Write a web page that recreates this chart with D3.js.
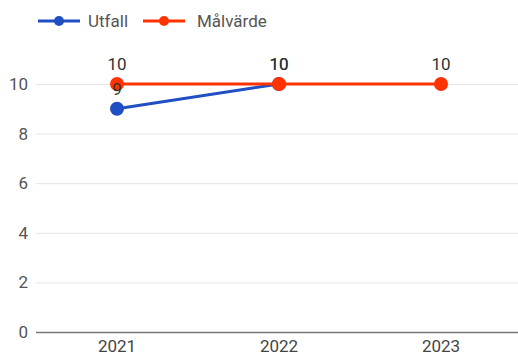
<!DOCTYPE html>
<html><head><meta charset="utf-8">
<script src="https://cdn.jsdelivr.net/npm/d3@7"></script>
<style>body{margin:0;background:#fff}svg{display:block;font-family:Roboto,sans-serif}</style>
</head><body><svg id="c" width="518" height="356"></svg>
<script>
const years = ["2021","2022","2023"];
const utfall = [9, 10, null];
const malvarde = [10, 10, 10];
const yTicks = [0,2,4,6,8,10];
const seriesNames = ["Utfall","Målvärde"];
const colors = ["#1f4fc2","#ff3300"];

const svg = d3.select("#c");
const x = d3.scaleBand().domain(years).range([36, 522]);
const y = d3.scaleLinear().domain([0, 10]).range([332, 84]);
const cx = d => x(d) + x.bandwidth()/2;
const FS = 17;

const ya = svg.append("g").attr("transform","translate(36,0)")
  .call(d3.axisLeft(y).tickValues(yTicks).tickSize(-482).tickFormat(d3.format("d")));
ya.select(".domain").remove();
ya.selectAll(".tick line").attr("stroke", d => d===0 ? "#777" : "#e6e6e6").attr("stroke-width", d=>d===0?1.3:1);
ya.selectAll(".tick text").attr("x",-8).attr("fill","#555").attr("font-size",FS).attr("font-family","Roboto,sans-serif");

const xa = svg.append("g").attr("transform","translate(0,332)")
  .call(d3.axisBottom(x).tickSize(0));
xa.select(".domain").remove();
xa.selectAll(".tick text").attr("y",20).attr("dy",0).attr("fill","#444").attr("font-size",FS).attr("font-family","Roboto,sans-serif");

const series = [utfall, malvarde];
series.forEach((vals, i) => {
  const pts = years.map((yr, j) => ({yr, v: vals[j]})).filter(p => p.v != null);
  svg.append("path").datum(pts)
    .attr("fill","none").attr("stroke",colors[i]).attr("stroke-width",3)
    .attr("d", d3.line().x(p=>cx(p.yr)).y(p=>y(p.v)));
  svg.selectAll(null).data(pts).enter().append("circle")
    .attr("cx", p=>cx(p.yr)).attr("cy", p=>y(p.v)).attr("r",7).attr("fill",colors[i]);
});
series.forEach((vals, i) => {
  const pts = years.map((yr, j) => ({yr, v: vals[j]})).filter(p => p.v != null);
  svg.selectAll(null).data(pts).enter().append("text")
    .attr("x", p=>cx(p.yr)).attr("y", p=>y(p.v)-14)
    .attr("text-anchor","middle").attr("font-size",FS).attr("fill","#333")
    .text(p=>p.v);
});

const lg = [{x:38, tx:88},{x:143, tx:197}];
seriesNames.forEach((n,i)=>{
  const g = svg.append("g");
  g.append("line").attr("x1",lg[i].x).attr("x2",lg[i].x+42).attr("y1",21).attr("y2",21)
    .attr("stroke",colors[i]).attr("stroke-width",3);
  g.append("circle").attr("cx",lg[i].x+21).attr("cy",21).attr("r",5).attr("fill",colors[i]);
  g.append("text").attr("x",lg[i].tx).attr("y",27).attr("font-size",FS).attr("fill","#555").text(n);
});
</script></body></html>
